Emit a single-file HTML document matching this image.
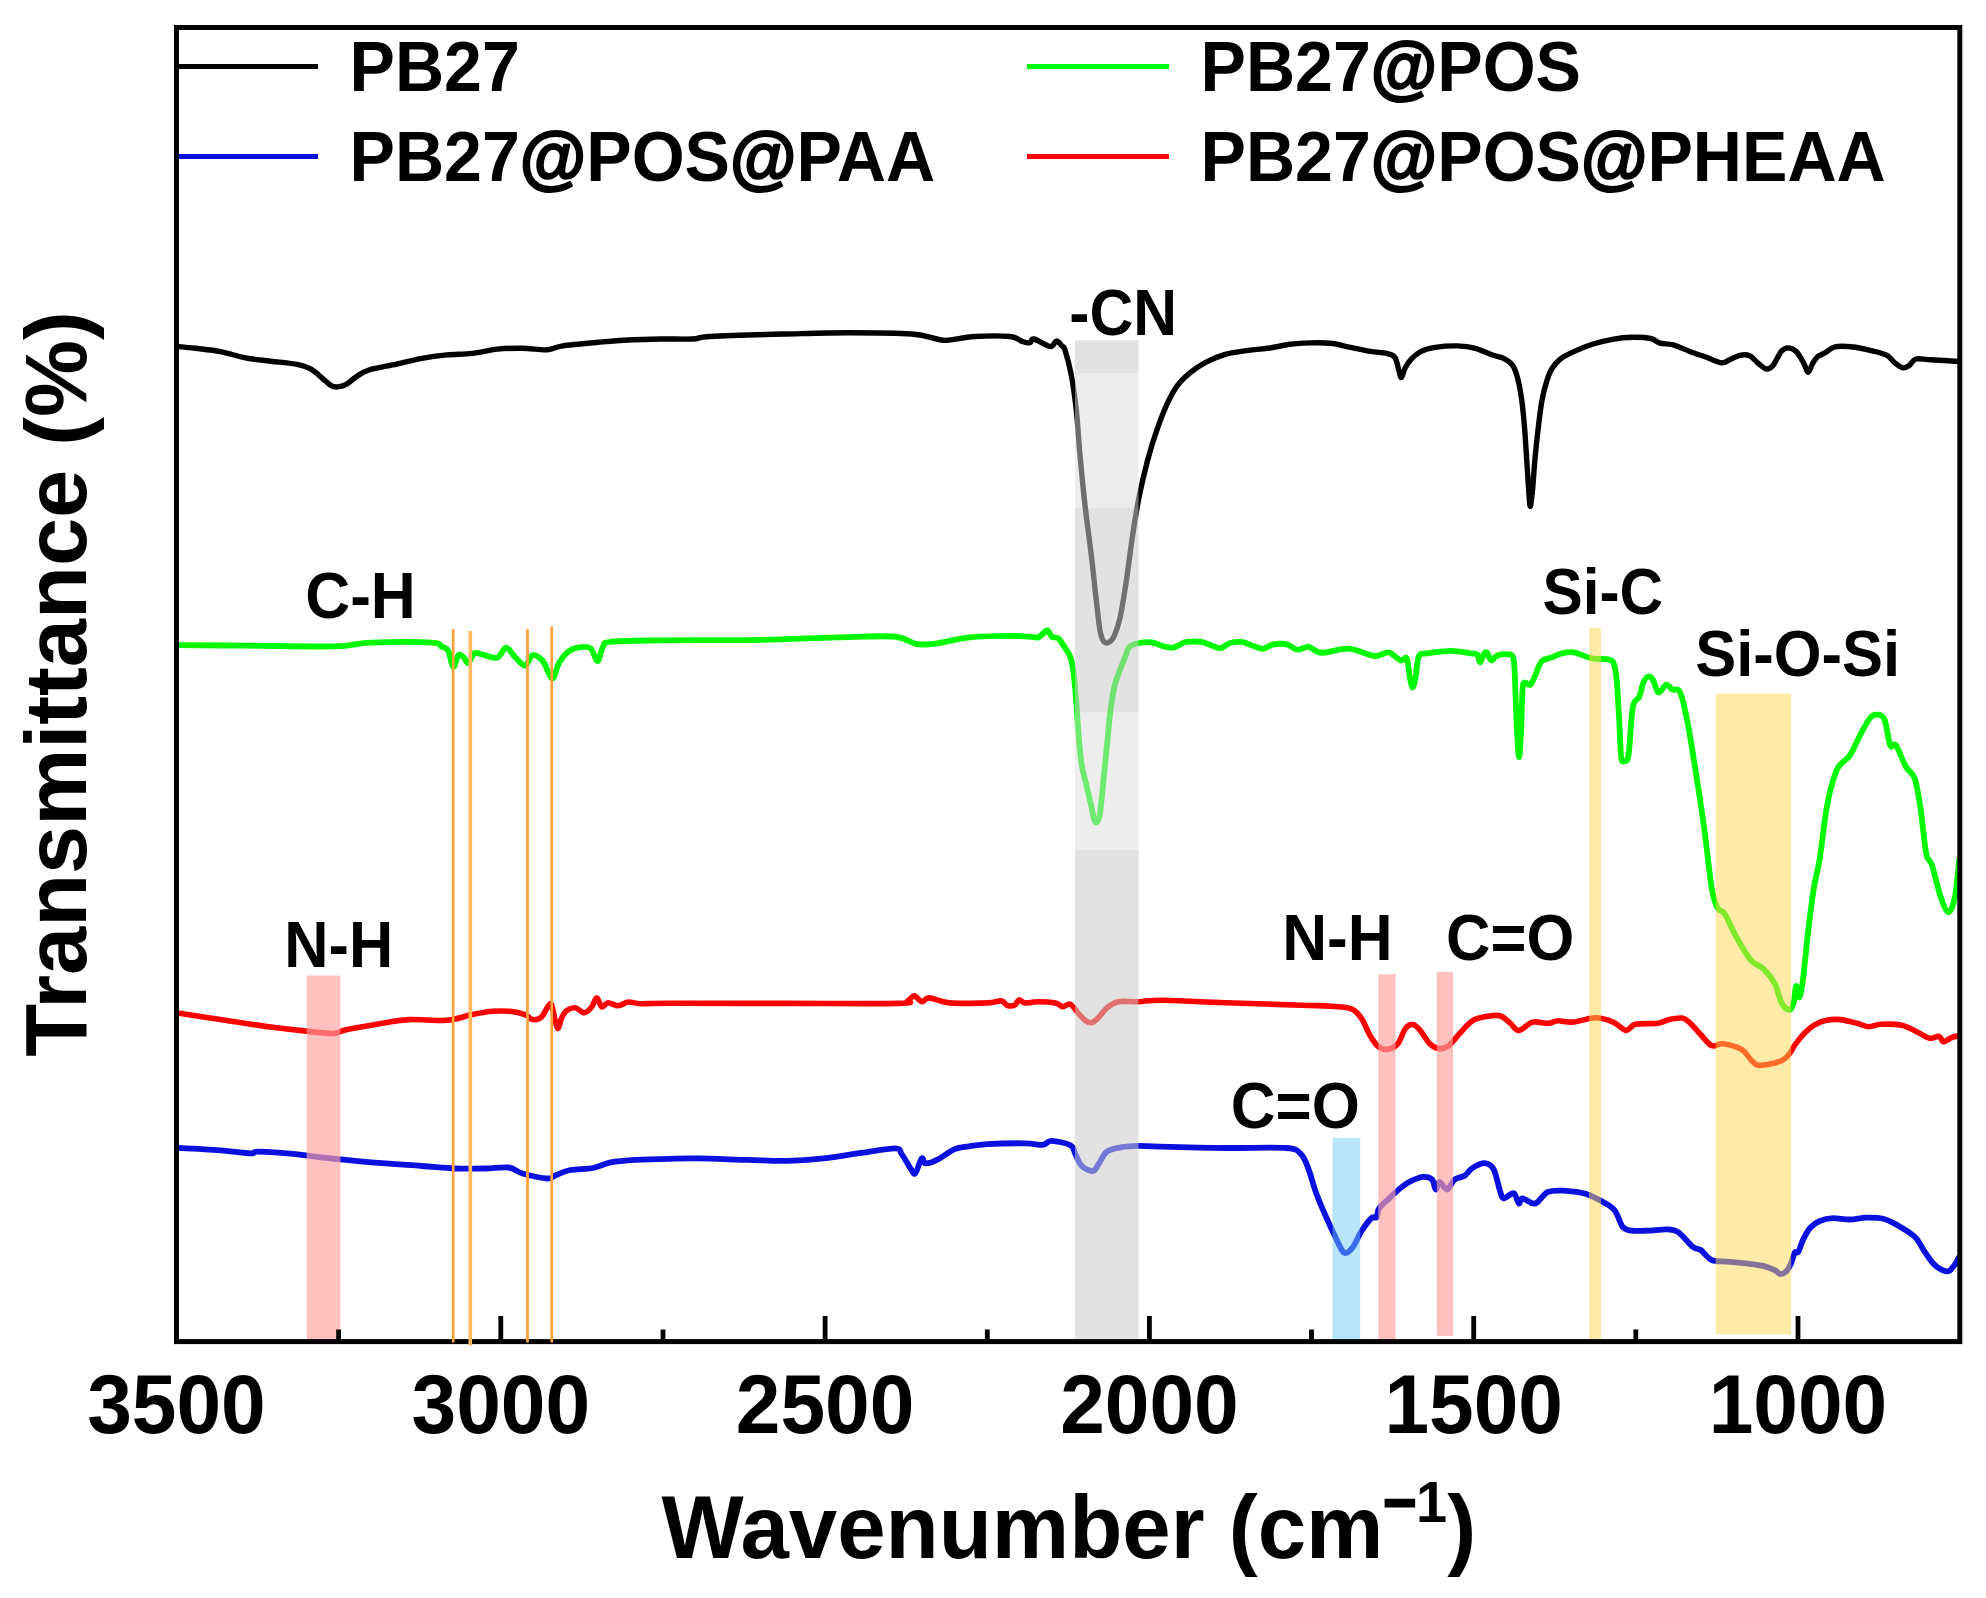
<!DOCTYPE html>
<html lang="en"><head><meta charset="utf-8"><title>FTIR spectra</title>
<style>html,body{margin:0;padding:0;background:#fff}body{width:1986px;height:1598px;overflow:hidden}svg{display:block;filter:blur(0.55px)}text{font-family:'Liberation Sans',sans-serif;font-weight:bold;fill:#000}</style></head><body>
<svg width="1986" height="1598" viewBox="0 0 1986 1598">
<rect x="0" y="0" width="1986" height="1598" fill="#fff"/>
<defs><clipPath id="plot"><rect x="176.5" y="27.5" width="1783.3" height="1314.1"/></clipPath></defs>
<g fill="none" stroke-linejoin="round" stroke-linecap="round" stroke-width="4.6" clip-path="url(#plot)">
<path stroke="#0a10de" stroke-width="5.8" d="M176.5 1147.8C183.8 1148.2 208.1 1149.5 220.4 1150.4C232.8 1151.3 244.3 1153.2 250.6 1153.4C256.9 1153.6 250.6 1151.5 258.1 1151.6C265.7 1151.7 285.4 1153.1 295.9 1154.1C306.4 1155.1 308.5 1156.0 321.1 1157.4C333.7 1158.8 354.6 1161.0 371.4 1162.4C388.2 1163.8 407.9 1165.0 421.8 1166.0C435.7 1167.0 444.0 1168.1 454.5 1168.5C465.0 1168.9 475.7 1168.7 484.7 1168.5C493.7 1168.3 502.3 1166.7 508.6 1167.5C514.9 1168.3 516.0 1171.7 522.5 1173.5C529.0 1175.3 542.2 1178.2 547.7 1178.5C553.2 1178.8 551.4 1176.9 555.2 1175.5C559.0 1174.1 564.0 1171.2 570.3 1170.0C576.6 1168.8 586.3 1169.3 593.0 1168.0C599.7 1166.7 603.5 1163.8 610.6 1162.4C617.7 1161.1 625.9 1160.5 635.8 1159.9C645.7 1159.3 659.7 1159.0 670.0 1158.8C680.3 1158.5 684.8 1158.2 697.8 1158.4C710.8 1158.6 733.4 1159.5 748.1 1159.9C762.8 1160.3 773.3 1161.2 785.9 1160.9C798.5 1160.7 811.0 1159.7 823.6 1158.4C836.2 1157.1 849.4 1154.6 861.4 1152.9C873.4 1151.2 888.7 1148.1 895.4 1148.3C902.1 1148.5 899.0 1150.4 901.7 1154.1C904.4 1157.8 909.5 1167.3 911.8 1170.5C914.1 1173.7 913.8 1175.0 915.5 1173.0C917.2 1171.0 920.1 1160.0 921.8 1158.4C923.5 1156.8 923.1 1163.2 925.6 1163.4C928.1 1163.7 932.1 1162.3 936.9 1159.9C941.7 1157.5 949.5 1151.3 954.6 1149.1C959.7 1146.9 961.8 1147.4 967.2 1146.6C972.7 1145.8 977.6 1144.6 987.3 1144.1C996.9 1143.5 1015.9 1143.2 1025.1 1143.3C1034.3 1143.4 1038.3 1145.2 1042.7 1144.8C1047.1 1144.4 1046.9 1140.7 1051.5 1140.8C1056.1 1140.9 1066.4 1143.1 1070.4 1145.3C1074.4 1147.5 1073.5 1150.6 1075.4 1154.1C1077.3 1157.5 1078.8 1163.2 1081.7 1166.0C1084.6 1168.8 1090.1 1171.5 1093.0 1171.0C1095.9 1170.5 1097.0 1166.1 1099.3 1162.9C1101.6 1159.7 1103.3 1154.2 1106.9 1151.6C1110.5 1149.0 1115.5 1148.3 1120.7 1147.3C1126.0 1146.3 1131.9 1145.9 1138.4 1145.8C1145.0 1145.7 1145.5 1146.2 1160.0 1146.6C1174.5 1147.0 1204.5 1147.8 1225.5 1148.0C1246.5 1148.2 1273.4 1147.0 1286.0 1148.0C1298.6 1149.0 1297.3 1150.7 1301.1 1154.3C1304.9 1157.9 1306.1 1162.9 1308.6 1169.4C1311.1 1175.9 1313.3 1185.3 1316.2 1193.3C1319.1 1201.3 1323.1 1210.1 1326.2 1217.2C1329.3 1224.3 1332.0 1230.2 1335.0 1236.1C1338.0 1242.0 1341.0 1250.6 1343.9 1252.5C1346.9 1254.4 1349.8 1251.0 1352.7 1247.4C1355.6 1243.8 1358.3 1236.0 1361.5 1231.1C1364.7 1226.2 1369.1 1220.3 1371.6 1218.0C1374.1 1215.7 1375.3 1218.8 1376.6 1217.2C1377.8 1215.6 1377.0 1211.6 1379.1 1208.4C1381.2 1205.2 1385.4 1201.9 1389.2 1198.3C1393.0 1194.7 1398.0 1189.9 1401.8 1187.0C1405.6 1184.1 1408.2 1182.4 1411.8 1180.7C1415.4 1179.0 1419.8 1177.1 1423.2 1176.9C1426.6 1176.7 1429.9 1177.3 1432.0 1179.4C1434.1 1181.5 1434.5 1189.1 1435.8 1189.5C1437.0 1189.9 1437.6 1182.0 1439.5 1182.0C1441.4 1182.0 1444.6 1189.9 1447.1 1189.5C1449.6 1189.1 1451.7 1181.7 1454.6 1179.4C1457.5 1177.1 1461.8 1177.6 1464.7 1175.7C1467.7 1173.8 1469.0 1170.2 1472.3 1168.1C1475.6 1166.0 1481.2 1162.9 1484.8 1163.1C1488.4 1163.3 1491.2 1164.8 1493.7 1169.4C1496.2 1174.0 1498.3 1186.0 1500.0 1190.8C1501.7 1195.6 1501.4 1197.9 1503.7 1198.3C1506.0 1198.7 1511.3 1192.4 1513.8 1193.3C1516.3 1194.2 1517.3 1202.6 1518.8 1203.4C1520.3 1204.2 1519.9 1198.3 1522.6 1198.3C1525.3 1198.3 1531.0 1204.5 1535.2 1203.4C1539.4 1202.4 1542.8 1194.1 1547.8 1192.0C1552.8 1189.9 1559.1 1190.5 1565.4 1190.8C1571.7 1191.1 1579.2 1191.9 1585.5 1193.8C1591.8 1195.7 1598.3 1199.3 1603.2 1202.1C1608.1 1204.9 1611.7 1206.6 1614.9 1210.7C1618.1 1214.8 1619.9 1223.3 1622.4 1226.6C1624.9 1229.9 1625.8 1229.6 1629.8 1230.3C1633.8 1231.0 1640.4 1230.8 1646.6 1230.7C1652.8 1230.6 1661.8 1229.2 1667.1 1229.4C1672.4 1229.7 1673.9 1229.2 1678.2 1232.2C1682.5 1235.2 1689.4 1244.1 1693.1 1247.1C1696.8 1250.0 1697.5 1247.7 1700.6 1249.9C1703.7 1252.1 1707.4 1258.1 1711.8 1260.1C1716.2 1262.0 1720.5 1261.0 1726.7 1261.6C1732.9 1262.2 1742.8 1263.0 1749.0 1263.8C1755.2 1264.5 1759.6 1265.0 1763.9 1266.1C1768.2 1267.2 1772.4 1269.1 1775.1 1270.4C1777.8 1271.7 1778.4 1273.9 1780.3 1274.1C1782.2 1274.2 1784.5 1273.0 1786.3 1271.3C1788.1 1269.6 1789.5 1266.9 1790.9 1263.8C1792.3 1260.7 1793.5 1254.7 1794.7 1252.7C1796.0 1250.7 1797.0 1253.9 1798.4 1251.7C1799.8 1249.5 1801.1 1243.6 1803.1 1239.6C1805.1 1235.6 1807.7 1230.6 1810.5 1227.5C1813.3 1224.4 1816.1 1222.5 1819.8 1221.0C1823.5 1219.5 1827.9 1218.5 1832.9 1218.2C1837.9 1218.0 1844.0 1219.6 1849.6 1219.5C1855.2 1219.4 1860.8 1217.7 1866.4 1217.6C1872.0 1217.5 1877.9 1217.4 1883.2 1218.7C1888.5 1220.0 1892.8 1222.6 1898.1 1225.6C1903.4 1228.6 1910.5 1232.6 1914.8 1236.8C1919.1 1241.0 1921.0 1246.3 1924.1 1250.8C1927.2 1255.3 1930.7 1260.7 1933.5 1263.8C1936.3 1266.9 1938.4 1268.2 1940.9 1269.4C1943.4 1270.7 1946.2 1271.9 1948.4 1271.3C1950.6 1270.7 1952.2 1268.0 1954.0 1265.7C1955.8 1263.4 1958.2 1258.7 1959.0 1257.3"/>
<path stroke="#ff0000" stroke-width="5.6" d="M176.5 1012.8C183.8 1013.9 204.7 1017.2 220.4 1019.6C236.1 1022.0 256.0 1025.1 270.7 1027.1C285.4 1029.1 298.0 1030.4 308.5 1031.4C319.0 1032.5 327.3 1033.7 333.6 1033.4C339.9 1033.1 337.8 1031.5 346.2 1029.7C354.6 1028.0 373.5 1024.6 384.0 1022.9C394.5 1021.2 398.7 1020.0 409.2 1019.6C419.7 1019.2 436.4 1021.1 446.9 1020.3C457.4 1019.5 464.5 1016.1 472.1 1014.6C479.7 1013.1 486.0 1011.8 492.3 1011.3C498.6 1010.8 504.4 1010.8 509.9 1011.3C515.4 1011.8 521.2 1013.2 525.0 1014.6C528.8 1016.0 529.8 1019.2 532.5 1019.6C535.2 1020.0 538.9 1019.2 541.4 1017.1C543.9 1015.0 546.0 1009.1 547.7 1007.0C549.4 1004.9 550.1 1002.2 551.4 1004.5C552.6 1006.8 554.1 1016.8 555.2 1020.8C556.3 1024.8 557.2 1028.8 558.2 1028.4C559.2 1028.0 560.1 1021.2 561.5 1018.3C562.9 1015.4 564.2 1012.5 566.5 1010.8C568.8 1009.0 572.4 1007.5 575.3 1007.8C578.2 1008.1 581.4 1012.9 584.1 1012.8C586.8 1012.7 589.6 1009.5 591.7 1007.0C593.8 1004.5 595.0 997.7 596.7 997.7C598.4 997.7 599.9 1006.2 601.8 1007.0C603.7 1007.8 605.4 1002.9 608.1 1002.7C610.8 1002.5 614.8 1005.8 618.1 1005.7C621.5 1005.6 624.4 1002.3 628.2 1002.0C632.0 1001.7 633.8 1003.5 640.8 1003.7C647.8 1003.9 645.8 1003.2 670.0 1003.2C694.2 1003.2 747.7 1003.4 785.9 1003.4C824.1 1003.4 878.9 1003.9 899.2 1003.4C919.6 1002.9 905.5 1001.6 908.0 1000.4C910.5 999.1 912.0 995.7 914.3 995.9C916.6 996.1 919.3 1001.4 921.8 1001.7C924.3 1002.0 924.8 997.7 929.4 997.9C934.0 998.1 939.9 1002.1 949.5 1002.9C959.1 1003.7 978.7 1003.2 987.3 1002.9C995.9 1002.6 997.8 1000.5 1001.1 1000.9C1004.5 1001.3 1005.1 1004.8 1007.4 1005.5C1009.7 1006.2 1013.1 1005.9 1015.0 1005.0C1016.9 1004.1 1017.1 1000.2 1018.8 999.9C1020.5 999.5 1022.0 1002.6 1025.1 1002.9C1028.2 1003.2 1032.6 1001.7 1037.6 1001.7C1042.6 1001.7 1051.1 1002.1 1055.3 1002.9C1059.5 1003.7 1060.3 1006.5 1062.8 1006.7C1065.3 1006.9 1067.7 1002.9 1070.4 1004.2C1073.1 1005.5 1076.7 1011.6 1079.2 1014.3C1081.7 1017.0 1083.4 1019.2 1085.5 1020.6C1087.6 1022.0 1089.7 1023.0 1091.8 1022.6C1093.9 1022.2 1095.6 1020.4 1098.1 1018.0C1100.6 1015.6 1103.6 1010.7 1106.9 1008.0C1110.2 1005.3 1113.0 1002.8 1118.2 1001.7C1123.5 1000.7 1131.0 1002.0 1138.4 1001.7C1145.8 1001.5 1148.1 1000.0 1162.6 1000.2C1177.1 1000.4 1202.4 1001.9 1225.5 1002.7C1248.6 1003.5 1283.5 1004.6 1301.1 1005.2C1318.7 1005.8 1322.9 1005.6 1331.3 1006.2C1339.7 1006.8 1346.4 1006.8 1351.4 1008.8C1356.4 1010.8 1358.3 1013.8 1361.5 1018.3C1364.7 1022.8 1367.4 1031.2 1370.3 1036.0C1373.2 1040.8 1375.9 1045.1 1379.1 1047.3C1382.2 1049.5 1386.0 1049.6 1389.2 1049.0C1392.4 1048.4 1395.3 1046.9 1398.0 1043.5C1400.7 1040.1 1403.0 1031.6 1405.5 1028.4C1408.0 1025.2 1410.6 1024.2 1413.1 1024.6C1415.6 1025.0 1417.9 1027.8 1420.6 1030.9C1423.3 1034.1 1426.5 1040.6 1429.5 1043.5C1432.5 1046.4 1435.2 1048.1 1438.3 1048.5C1441.4 1048.9 1444.7 1048.5 1448.3 1046.0C1451.9 1043.5 1455.7 1037.6 1459.7 1033.4C1463.7 1029.2 1467.7 1023.6 1472.3 1020.8C1476.9 1017.9 1482.8 1017.1 1487.4 1016.3C1492.0 1015.5 1496.2 1014.7 1500.0 1015.8C1503.8 1016.9 1506.9 1020.5 1510.0 1022.9C1513.1 1025.3 1515.0 1030.5 1518.8 1030.4C1522.6 1030.3 1527.9 1023.3 1532.7 1022.1C1537.5 1020.9 1543.6 1023.6 1547.8 1023.4C1552.0 1023.2 1553.7 1021.0 1557.9 1020.8C1562.1 1020.6 1566.7 1022.6 1573.0 1022.1C1579.3 1021.6 1588.9 1017.8 1595.6 1017.8C1602.3 1017.8 1608.1 1020.0 1613.2 1022.1C1618.3 1024.2 1622.4 1030.0 1626.1 1030.4C1629.8 1030.8 1630.1 1025.5 1635.4 1024.3C1640.7 1023.1 1652.1 1024.1 1657.7 1023.3C1663.3 1022.5 1664.9 1020.5 1668.9 1019.6C1673.0 1018.7 1678.6 1017.6 1682.0 1018.1C1685.4 1018.6 1686.3 1019.7 1689.4 1022.4C1692.5 1025.1 1696.9 1030.6 1700.6 1034.5C1704.3 1038.4 1708.1 1044.2 1711.8 1045.7C1715.5 1047.2 1718.0 1043.2 1723.0 1043.8C1728.0 1044.4 1736.9 1046.8 1741.6 1049.4C1746.2 1052.1 1748.1 1057.1 1750.9 1059.7C1753.7 1062.3 1754.6 1064.7 1758.3 1065.3C1762.0 1065.9 1769.0 1064.3 1773.2 1063.4C1777.4 1062.5 1780.7 1061.4 1783.5 1059.7C1786.3 1058.0 1788.0 1055.8 1790.0 1053.1C1792.0 1050.4 1793.1 1047.2 1795.6 1043.8C1798.1 1040.4 1801.8 1035.8 1804.9 1032.7C1808.0 1029.6 1810.8 1027.2 1814.2 1025.2C1817.6 1023.2 1821.1 1021.4 1825.4 1020.5C1829.8 1019.6 1835.0 1019.1 1840.3 1019.6C1845.6 1020.1 1852.4 1022.1 1857.1 1023.3C1861.8 1024.5 1864.3 1026.5 1868.3 1026.7C1872.3 1026.9 1875.7 1024.5 1881.3 1024.3C1886.9 1024.0 1895.9 1024.0 1901.8 1025.2C1907.7 1026.4 1912.0 1029.5 1916.7 1031.7C1921.4 1033.9 1926.0 1037.4 1929.7 1038.2C1933.4 1039.0 1936.7 1035.8 1939.0 1036.4C1941.3 1037.0 1941.5 1041.4 1943.7 1041.6C1945.9 1041.8 1949.5 1038.2 1952.1 1037.3C1954.6 1036.4 1957.8 1036.2 1959.0 1036.0"/>
<path stroke="#00fb00" stroke-width="5.8" d="M176.5 645.1C188.0 645.2 219.3 645.4 245.5 645.6C271.7 645.8 312.6 646.9 333.6 646.4C354.6 645.9 355.0 643.2 371.4 642.6C387.8 642.0 420.1 641.9 431.8 642.6C443.6 643.3 439.2 645.6 441.9 646.9C444.6 648.2 446.3 647.2 448.2 650.6C450.1 654.0 451.5 666.2 453.2 667.0C454.9 667.8 456.6 656.9 458.3 655.2C460.0 653.5 461.6 655.6 463.3 656.9C465.0 658.2 466.4 663.8 468.3 663.2C470.2 662.6 471.9 654.5 474.6 653.2C477.3 651.9 480.9 654.5 484.7 655.2C488.5 656.0 493.7 659.0 497.3 657.7C500.9 656.4 503.2 647.7 506.1 647.6C509.0 647.5 511.8 653.9 514.9 656.9C518.0 659.9 522.1 666.0 525.0 665.7C527.9 665.4 529.6 656.0 532.5 655.2C535.4 654.4 539.9 657.7 542.6 660.7C545.3 663.7 547.1 670.4 548.9 673.3C550.7 676.2 551.5 680.0 553.2 678.3C554.9 676.6 556.6 667.6 559.0 663.2C561.4 658.8 564.6 654.5 567.8 651.9C570.9 649.3 574.1 648.2 577.9 647.6C581.7 647.0 587.1 645.8 590.4 648.1C593.7 650.4 595.4 661.4 597.5 661.2C599.6 661.0 600.8 650.1 603.0 646.9C605.2 643.7 601.1 642.9 610.6 641.8C620.1 640.7 635.0 640.7 660.0 640.4C685.0 640.1 731.3 640.3 760.7 639.8C790.1 639.3 814.0 637.8 836.2 637.3C858.4 636.8 880.7 635.5 894.1 636.6C907.5 637.7 909.7 643.0 916.8 644.1C923.9 645.2 928.1 644.5 936.9 643.4C945.7 642.3 957.1 638.6 969.7 637.3C982.3 636.0 1001.6 635.8 1012.5 635.8C1023.4 635.8 1030.6 637.1 1035.1 637.3C1039.6 637.5 1037.4 637.9 1039.4 636.8C1041.4 635.7 1045.1 630.5 1047.2 630.5C1049.3 630.5 1050.1 635.5 1051.9 636.8C1053.7 638.1 1056.1 636.6 1058.2 638.3C1060.3 640.0 1062.3 643.6 1064.4 646.9C1066.5 650.2 1069.1 653.2 1070.7 657.9C1072.3 662.6 1072.9 668.1 1073.8 675.1C1074.7 682.1 1075.3 690.5 1076.1 700.1C1076.9 709.8 1077.6 722.3 1078.5 733.0C1079.4 743.7 1080.3 755.6 1081.6 764.2C1082.9 772.8 1084.7 777.8 1086.3 784.6C1087.9 791.4 1089.7 799.2 1091.0 804.9C1092.3 810.6 1093.2 816.1 1094.1 819.0C1095.0 821.9 1095.6 822.6 1096.5 822.1C1097.4 821.6 1098.7 820.3 1099.6 815.9C1100.5 811.5 1101.2 802.8 1102.0 795.5C1102.8 788.2 1103.4 781.2 1104.3 772.1C1105.2 763.0 1106.4 751.2 1107.4 740.8C1108.5 730.4 1109.4 718.6 1110.6 709.5C1111.8 700.4 1113.1 692.2 1114.5 686.0C1115.9 679.8 1117.4 677.0 1119.2 672.0C1121.0 667.0 1123.7 660.5 1125.4 656.3C1127.1 652.1 1127.0 649.1 1129.3 646.9C1131.6 644.7 1135.7 643.7 1139.5 643.0C1143.3 642.3 1148.1 642.0 1152.0 642.5C1155.9 643.0 1159.6 645.2 1163.0 646.1C1166.4 647.0 1169.4 648.0 1172.3 647.7C1175.2 647.5 1177.8 645.6 1180.2 644.6C1182.6 643.6 1182.8 642.3 1186.4 641.9C1190.1 641.5 1197.7 641.5 1202.1 642.2C1206.5 642.9 1209.9 645.1 1213.0 646.1C1216.1 647.1 1217.9 648.7 1220.8 648.2C1223.7 647.7 1226.5 644.0 1230.2 643.0C1233.9 642.0 1238.8 641.7 1242.7 642.2C1246.6 642.7 1250.3 645.0 1253.7 646.1C1257.1 647.2 1260.0 649.0 1263.1 648.8C1266.2 648.5 1268.6 645.4 1272.5 644.6C1276.4 643.9 1282.3 643.4 1286.5 644.3C1290.7 645.1 1293.8 649.3 1297.5 649.7C1301.2 650.1 1304.3 646.4 1308.4 646.9C1312.5 647.4 1315.4 652.5 1322.1 652.8C1328.8 653.1 1339.6 648.2 1348.3 648.7C1357.0 649.2 1367.8 655.4 1374.5 656.0C1381.2 656.6 1384.2 651.7 1388.5 652.4C1392.8 653.1 1397.6 659.4 1400.6 660.4C1403.6 661.4 1405.2 655.7 1406.7 658.4C1408.2 661.1 1408.7 671.6 1409.7 676.5C1410.7 681.4 1411.7 687.6 1412.7 687.6C1413.7 687.6 1414.7 681.7 1415.7 676.5C1416.7 671.3 1417.0 660.2 1418.8 656.4C1420.6 652.5 1421.4 654.3 1426.8 653.4C1432.2 652.5 1443.6 650.8 1451.0 650.8C1458.4 650.8 1466.7 652.8 1471.1 653.4C1475.5 654.0 1475.7 652.9 1477.2 654.4C1478.7 655.9 1479.0 662.6 1480.2 662.4C1481.4 662.2 1483.0 655.0 1484.2 653.4C1485.4 651.8 1486.0 651.6 1487.2 652.8C1488.4 654.0 1489.6 660.0 1491.3 660.4C1493.0 660.8 1494.3 656.4 1497.3 655.4C1500.3 654.4 1506.7 653.6 1509.4 654.4C1512.2 655.2 1512.8 654.4 1513.8 660.4C1514.8 666.4 1514.9 678.9 1515.4 690.6C1515.9 702.4 1516.4 719.8 1517.0 730.9C1517.6 742.0 1518.4 757.1 1519.1 757.1C1519.8 757.1 1520.5 742.0 1521.1 730.9C1521.7 719.8 1521.9 698.6 1522.5 690.6C1523.1 682.6 1523.2 683.6 1524.5 682.6C1525.8 681.6 1528.7 686.0 1530.5 684.6C1532.3 683.2 1533.8 678.4 1535.6 674.5C1537.4 670.6 1538.9 664.2 1541.6 661.4C1544.3 658.5 1548.3 658.7 1551.7 657.4C1555.1 656.1 1558.1 654.2 1561.8 653.4C1565.5 652.6 1568.8 651.6 1573.8 652.4C1578.8 653.2 1586.3 657.2 1592.0 658.4C1597.7 659.6 1604.4 658.4 1608.1 659.4C1611.8 660.4 1612.6 660.3 1614.1 664.5C1615.6 668.7 1616.2 675.2 1617.1 684.6C1617.9 694.0 1618.5 708.7 1619.2 720.8C1619.9 732.9 1620.4 750.4 1621.2 757.1C1622.0 763.8 1623.0 761.1 1624.2 761.1C1625.4 761.1 1627.1 762.1 1628.2 757.1C1629.3 752.1 1629.8 739.6 1630.6 730.9C1631.4 722.2 1631.8 710.4 1633.3 704.7C1634.8 699.0 1637.6 700.4 1639.3 696.7C1641.0 693.0 1641.8 686.0 1643.3 682.6C1644.8 679.2 1646.7 676.8 1648.4 676.5C1650.1 676.2 1651.7 677.9 1653.4 680.6C1655.1 683.3 1656.2 691.9 1658.4 692.6C1660.6 693.3 1664.2 685.1 1666.5 684.6C1668.8 684.1 1670.2 688.4 1672.5 689.6C1674.8 690.9 1677.5 686.9 1680.0 692.1C1682.5 697.3 1684.6 707.5 1687.3 720.9C1690.0 734.3 1693.0 754.5 1695.9 772.7C1698.8 790.9 1701.9 811.1 1704.5 830.3C1707.1 849.5 1709.5 874.9 1711.7 887.9C1713.9 900.9 1715.3 903.7 1717.5 908.0C1719.7 912.3 1721.6 909.0 1724.7 913.8C1727.8 918.6 1731.9 929.1 1736.2 936.8C1740.5 944.5 1746.0 954.4 1750.6 959.8C1755.2 965.2 1759.8 965.2 1763.9 969.3C1768.0 973.4 1772.1 978.6 1775.1 984.2C1778.0 989.8 1779.3 998.5 1781.6 1002.8C1783.9 1007.1 1787.1 1009.9 1789.1 1009.9C1791.1 1009.9 1792.5 1006.8 1793.7 1002.8C1794.9 998.8 1795.0 987.0 1796.0 986.1C1797.0 985.2 1798.3 998.5 1799.5 997.3C1800.7 996.0 1801.6 989.6 1803.1 978.6C1804.5 967.6 1806.4 946.1 1808.2 931.0C1810.0 915.9 1812.0 899.9 1813.9 887.9C1815.8 875.9 1817.8 871.1 1819.7 859.1C1821.6 847.1 1823.5 827.9 1825.4 815.9C1827.3 803.9 1829.0 795.2 1831.2 787.1C1833.4 779.0 1835.3 772.3 1838.4 767.0C1841.5 761.7 1846.3 760.7 1849.9 755.4C1853.5 750.1 1856.6 741.5 1860.0 735.3C1863.4 729.1 1867.2 721.5 1870.1 718.0C1873.0 714.5 1874.9 714.4 1877.3 714.6C1879.7 714.9 1882.3 714.4 1884.5 719.5C1886.7 724.6 1888.3 741.1 1890.2 745.4C1892.1 749.7 1893.4 741.8 1896.0 745.4C1898.6 749.0 1902.9 761.5 1906.0 767.0C1909.1 772.5 1912.3 771.8 1914.7 778.5C1917.1 785.2 1918.5 794.8 1920.4 807.3C1922.3 819.8 1924.3 843.7 1926.2 853.3C1928.1 862.9 1929.5 857.6 1931.9 864.8C1934.3 872.0 1937.8 888.6 1940.6 896.5C1943.4 904.4 1946.2 912.3 1948.6 912.3C1951.0 912.3 1953.2 905.4 1955.0 896.5C1956.8 887.6 1958.6 865.3 1959.3 859.1"/>
<path stroke="#000" stroke-width="5.4" d="M176.5 346.4C179.6 346.7 187.9 347.4 195.2 348.3C202.5 349.2 212.0 350.0 220.4 351.6C228.8 353.2 237.1 356.3 245.5 357.9C253.9 359.5 262.3 360.1 270.7 361.2C279.1 362.2 289.2 362.9 295.9 364.2C302.6 365.5 306.4 366.7 311.0 369.2C315.6 371.7 320.2 376.6 323.6 379.3C327.0 382.0 328.8 384.3 331.1 385.6C333.4 386.9 334.9 387.1 337.4 386.9C339.9 386.7 343.0 386.0 346.2 384.3C349.4 382.6 352.5 379.2 356.3 376.8C360.1 374.4 362.2 372.1 368.9 370.0C375.6 367.9 387.8 366.1 396.6 364.2C405.4 362.3 413.4 359.9 421.8 358.4C430.2 356.8 438.5 355.7 446.9 354.9C455.3 354.1 463.7 354.4 472.1 353.4C480.5 352.4 488.9 350.0 497.3 349.1C505.7 348.2 514.1 348.2 522.5 348.3C530.9 348.4 540.9 350.2 547.6 349.8C554.3 349.4 554.3 347.1 562.7 345.8C571.1 344.6 587.9 343.2 598.0 342.3C608.1 341.4 612.9 340.9 623.2 340.3C633.5 339.8 648.4 339.2 660.0 339.0C671.6 338.8 684.3 339.4 692.7 339.0C701.1 338.6 694.9 337.3 710.4 336.5C725.9 335.7 762.8 334.6 785.9 334.0C809.0 333.4 827.8 332.7 848.8 332.7C869.8 332.7 897.1 332.9 911.8 334.0C926.5 335.1 931.0 337.9 936.9 339.0C942.8 340.1 940.7 340.7 947.0 340.3C953.3 339.9 964.2 337.1 974.7 336.5C985.2 335.9 1002.0 335.7 1010.0 336.5C1018.0 337.3 1019.2 340.4 1022.5 341.5C1025.8 342.6 1028.1 343.2 1030.0 342.8C1031.9 342.4 1030.5 338.4 1033.9 339.0C1037.3 339.6 1046.4 346.3 1050.2 346.6C1054.0 346.9 1054.5 341.1 1056.5 341.0C1058.5 340.9 1060.6 344.5 1062.0 346.0C1063.4 347.5 1063.5 345.2 1065.0 350.0C1066.5 354.8 1069.4 365.0 1071.3 375.0C1073.2 385.0 1074.8 396.7 1076.3 410.0C1077.8 423.3 1078.5 439.1 1080.0 455.0C1081.5 470.9 1083.1 488.6 1085.0 505.3C1086.9 522.0 1089.4 539.4 1091.3 555.3C1093.2 571.1 1094.8 587.9 1096.3 600.4C1097.8 612.9 1098.8 623.5 1100.0 630.4C1101.2 637.3 1102.3 639.7 1103.8 641.7C1105.3 643.7 1107.1 643.2 1108.8 642.4C1110.5 641.6 1112.0 640.8 1113.9 636.7C1115.8 632.6 1117.9 627.3 1120.0 617.9C1122.1 608.5 1124.3 594.2 1126.4 580.4C1128.5 566.6 1130.5 549.1 1132.6 535.3C1134.7 521.5 1136.4 510.3 1138.9 497.8C1141.4 485.3 1144.5 471.9 1147.6 460.2C1150.7 448.5 1154.3 437.3 1157.7 427.7C1161.1 418.1 1164.4 409.8 1167.7 402.7C1171.0 395.6 1174.0 390.1 1177.7 385.1C1181.5 380.1 1185.6 376.4 1190.2 372.6C1194.8 368.9 1199.4 365.7 1205.2 362.6C1211.0 359.6 1217.7 356.4 1225.2 354.3C1232.7 352.2 1242.8 351.2 1250.3 350.1C1257.8 349.1 1263.4 349.0 1270.0 348.0C1276.6 347.0 1283.4 345.2 1290.1 344.3C1296.8 343.4 1303.6 343.1 1310.3 342.9C1317.0 342.7 1323.7 342.6 1330.4 343.3C1337.1 344.0 1343.9 346.0 1350.6 347.3C1357.3 348.6 1364.7 350.4 1370.7 351.4C1376.7 352.4 1382.8 352.4 1386.8 353.4C1390.8 354.4 1392.9 354.5 1394.9 357.4C1396.9 360.2 1397.8 367.1 1398.9 370.5C1400.0 373.9 1400.3 377.8 1401.3 377.5C1402.3 377.2 1403.3 371.5 1404.9 368.5C1406.5 365.5 1408.3 362.2 1411.0 359.4C1413.7 356.5 1417.0 353.4 1421.0 351.4C1425.0 349.4 1429.2 348.2 1435.2 347.3C1441.2 346.4 1450.6 345.7 1457.3 345.9C1464.0 346.1 1469.7 346.8 1475.4 348.3C1481.1 349.8 1486.9 353.1 1491.6 354.8C1496.3 356.5 1500.1 356.6 1503.6 358.4C1507.1 360.2 1510.3 362.1 1512.7 365.5C1515.1 368.9 1516.2 372.6 1517.7 378.5C1519.2 384.4 1520.6 392.0 1521.8 400.7C1523.0 409.4 1524.0 420.8 1524.8 430.9C1525.6 441.0 1526.1 451.0 1526.8 461.1C1527.5 471.2 1528.2 483.8 1528.8 491.3C1529.4 498.9 1529.6 506.4 1530.2 506.4C1530.8 506.4 1531.6 498.9 1532.4 491.3C1533.2 483.8 1533.9 471.2 1534.8 461.1C1535.7 451.0 1536.7 441.0 1537.9 430.9C1539.1 420.8 1540.4 409.1 1541.9 400.7C1543.4 392.3 1545.2 386.0 1546.9 380.6C1548.6 375.2 1549.8 372.0 1552.0 368.5C1554.2 365.0 1556.7 362.1 1560.0 359.4C1563.3 356.7 1566.7 354.9 1572.1 352.4C1577.5 349.9 1585.6 346.5 1592.3 344.3C1599.0 342.1 1605.7 340.5 1612.4 339.3C1619.1 338.1 1626.1 337.4 1632.5 337.3C1638.9 337.2 1646.1 337.5 1650.7 338.5C1655.3 339.5 1656.2 342.1 1660.0 343.2C1663.8 344.3 1668.2 343.5 1673.2 344.9C1678.2 346.3 1684.4 349.4 1689.9 351.5C1695.5 353.6 1701.2 355.4 1706.5 357.3C1711.8 359.2 1717.5 362.4 1721.4 362.8C1725.3 363.2 1726.7 361.1 1729.7 359.8C1732.8 358.6 1736.4 356.0 1739.7 355.3C1743.0 354.6 1746.7 354.4 1749.7 355.7C1752.8 357.0 1755.2 360.9 1758.0 363.1C1760.8 365.3 1763.8 368.6 1766.3 369.0C1768.8 369.4 1770.4 368.5 1772.9 365.6C1775.4 362.7 1778.7 354.4 1781.2 351.5C1783.7 348.6 1785.4 347.9 1787.9 347.9C1790.4 347.9 1793.6 349.0 1796.2 351.5C1798.8 354.0 1801.7 359.6 1803.7 363.1C1805.7 366.6 1806.7 372.3 1808.2 372.3C1809.7 372.3 1811.2 365.7 1812.8 363.1C1814.4 360.5 1815.9 358.1 1817.8 356.5C1819.7 354.9 1821.6 354.8 1824.4 353.2C1827.2 351.6 1830.5 348.1 1834.4 347.0C1838.3 345.9 1842.7 346.2 1847.7 346.5C1852.7 346.8 1857.9 347.6 1864.3 349.0C1870.7 350.4 1880.9 352.6 1885.9 354.8C1890.9 357.0 1891.4 360.1 1894.2 362.3C1897.0 364.5 1900.0 367.2 1902.5 367.8C1905.0 368.4 1907.0 367.1 1909.2 365.6C1911.4 364.1 1912.2 360.0 1915.8 359.0C1919.4 358.0 1923.6 359.4 1930.8 359.8C1938.0 360.2 1954.3 361.2 1959.0 361.5"/>
</g>
<rect x="1075.0" y="340.3" width="63.5" height="32.7" fill="rgb(202,202,202)" fill-opacity="0.553"/>
<rect x="1075.0" y="373.0" width="63.5" height="135.0" fill="rgb(220,220,220)" fill-opacity="0.5"/>
<rect x="1075.0" y="508.0" width="63.5" height="204.5" fill="rgb(202,202,202)" fill-opacity="0.553"/>
<rect x="1075.0" y="712.5" width="63.5" height="137.5" fill="rgb(220,220,220)" fill-opacity="0.5"/>
<rect x="1075.0" y="850.0" width="63.5" height="489.0" fill="rgb(202,202,202)" fill-opacity="0.553"/>
<rect x="306.7" y="975.5" width="33.7" height="364.0" fill="rgb(255,160,161)" fill-opacity="0.667"/>
<rect x="1378.3" y="974.3" width="17.3" height="365.2" fill="rgb(255,160,161)" fill-opacity="0.667"/>
<rect x="1436.8" y="971.8" width="16.2" height="364.1" fill="rgb(255,160,161)" fill-opacity="0.667"/>
<rect x="1589.0" y="627.8" width="12.0" height="711.7" fill="rgb(255,215,81)" fill-opacity="0.5"/>
<rect x="1715.6" y="693.6" width="75.6" height="640.8" fill="rgb(255,215,81)" fill-opacity="0.5"/>
<rect x="1332.5" y="1137.9" width="27.7" height="201.1" fill="rgb(112,202,247)" fill-opacity="0.49"/>
<rect x="176.5" y="27.5" width="1783.3" height="1314.1" fill="none" stroke="#000" stroke-width="5"/>
<rect x="498.4" y="1316" width="4.8" height="25" fill="#000"/>
<rect x="822.7" y="1316" width="4.8" height="25" fill="#000"/>
<rect x="1147.0" y="1316" width="4.8" height="25" fill="#000"/>
<rect x="1471.3" y="1316" width="4.8" height="25" fill="#000"/>
<rect x="1795.6" y="1316" width="4.8" height="25" fill="#000"/>
<rect x="336.2" y="1329.5" width="4.8" height="12" fill="#000"/>
<rect x="660.6" y="1329.5" width="4.8" height="12" fill="#000"/>
<rect x="984.9" y="1329.5" width="4.8" height="12" fill="#000"/>
<rect x="1309.1" y="1329.5" width="4.8" height="12" fill="#000"/>
<rect x="1633.4" y="1329.5" width="4.8" height="12" fill="#000"/>
<rect x="451.85" y="629.0" width="2.7" height="713.5" fill="#ffa23c"/>
<rect x="468.50" y="631.0" width="3.6" height="714.5" fill="#ffba60"/>
<rect x="526.15" y="629.0" width="2.7" height="713.5" fill="#ffa23c"/>
<rect x="550.35" y="626.5" width="2.7" height="716.0" fill="#ffa23c"/>
<text transform="translate(176.5,1432.7) scale(0.9520,1)" font-size="84.3" text-anchor="middle">3500</text>
<text transform="translate(500.8,1432.7) scale(0.9520,1)" font-size="84.3" text-anchor="middle">3000</text>
<text transform="translate(825.1,1432.7) scale(0.9520,1)" font-size="84.3" text-anchor="middle">2500</text>
<text transform="translate(1149.4,1432.7) scale(0.9520,1)" font-size="84.3" text-anchor="middle">2000</text>
<text transform="translate(1473.7,1432.7) scale(0.9520,1)" font-size="84.3" text-anchor="middle">1500</text>
<text transform="translate(1798.0,1432.7) scale(0.9520,1)" font-size="84.3" text-anchor="middle">1000</text>
<text transform="translate(661.5,1557.9) scale(0.9820,1)" font-size="88.6" text-anchor="start">Wavenumber (cm<tspan font-size="57" dy="-35.5" stroke="#000" stroke-width="2.5">−</tspan><tspan font-size="57">1</tspan><tspan dy="35.5">)</tspan></text>
<text transform="translate(86.2,1056.8) rotate(-90) scale(0.984,1)" font-size="88">Transmittance (%)</text>
<g stroke-width="5.2" stroke-linecap="butt">
<line x1="179" y1="66.5" x2="318" y2="66.5" stroke="#000"/>
<line x1="179" y1="156.5" x2="318" y2="156.5" stroke="#0a10de"/>
<line x1="1027" y1="66.5" x2="1169" y2="66.5" stroke="#00fb00"/>
<line x1="1027" y1="156.5" x2="1169" y2="156.5" stroke="#ff0000"/>
</g>
<text transform="translate(349.5,91.2) scale(0.9770,1)" font-size="69.7" text-anchor="start">PB27</text>
<text transform="translate(349.5,181.2) scale(0.9770,1)" font-size="69.7" text-anchor="start">PB27<tspan stroke="#000" stroke-width="2.1" stroke-linejoin="round">@</tspan>POS<tspan stroke="#000" stroke-width="2.1" stroke-linejoin="round">@</tspan>PAA</text>
<text transform="translate(1200.5,91.2) scale(0.9770,1)" font-size="69.7" text-anchor="start">PB27<tspan stroke="#000" stroke-width="2.1" stroke-linejoin="round">@</tspan>POS</text>
<text transform="translate(1200.5,181.2) scale(0.9770,1)" font-size="69.7" text-anchor="start">PB27<tspan stroke="#000" stroke-width="2.1" stroke-linejoin="round">@</tspan>POS<tspan stroke="#000" stroke-width="2.1" stroke-linejoin="round">@</tspan>PHEAA</text>
<text transform="translate(1069.2,334.5) scale(0.9254,1)" font-size="65.5" text-anchor="start">-CN</text>
<text transform="translate(305.2,617.8) scale(0.9500,1)" font-size="65.5" text-anchor="start">C-H</text>
<text transform="translate(1542.6,614.2) scale(0.9204,1)" font-size="65.5" text-anchor="start">Si-C</text>
<text transform="translate(1695.2,676.3) scale(0.9387,1)" font-size="65.5" text-anchor="start">Si-O-Si</text>
<text transform="translate(284.3,967.3) scale(0.9357,1)" font-size="65.5" text-anchor="start">N-H</text>
<text transform="translate(1282.2,960.3) scale(0.9486,1)" font-size="65.5" text-anchor="start">N-H</text>
<text transform="translate(1446.1,959.8) scale(0.9392,1)" font-size="65.5" text-anchor="start">C=O</text>
<text transform="translate(1230.8,1128.4) scale(0.9455,1)" font-size="65.5" text-anchor="start">C=O</text>
</svg></body></html>
